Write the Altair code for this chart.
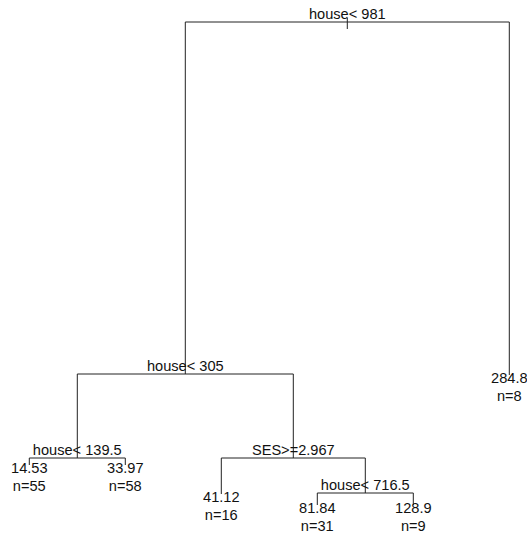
import altair as alt
import pandas as pd

# Split nodes of the regression tree (rpart-style)
split_labels = ["house< 981", "house< 305", "house< 139.5", "SES>=2.967", "house< 716.5"]
split_height = [1.0, 0.296, 0.128, 0.128, 0.058]
# children: ("s", i) split, ("l", j) leaf
split_children = [
    (("s", 1), ("l", 5)),
    (("s", 2), ("s", 3)),
    (("l", 0), ("l", 1)),
    (("l", 2), ("s", 4)),
    (("l", 3), ("l", 4)),
]

# Leaves
leaf_values = ["14.53", "33.97", "41.12", "81.84", "128.9", "284.8"]
leaf_n = [55, 58, 16, 31, 9, 8]
leaf_height = [0.114, 0.114, 0.056, 0.034, 0.034, 0.294]
leaf_order = [1, 2, 3, 4, 5, 6]

# ---- derive layout from tree structure ----
def node_x(node):
    kind, i = node
    if kind == "l":
        return leaf_order[i]
    a, b = split_children[i]
    return (node_x(a) + node_x(b)) / 2

def node_h(node):
    kind, i = node
    return leaf_height[i] if kind == "l" else split_height[i]

segs = []
for i, (a, b) in enumerate(split_children):
    h = split_height[i]
    segs.append(dict(x=node_x(a), x2=node_x(b), y=h, y2=h))
    for c in (a, b):
        segs.append(dict(x=node_x(c), x2=node_x(c), y=h, y2=node_h(c)))
root_x = node_x(("s", 0))
segs.append(dict(x=root_x, x2=root_x, y=split_height[0] + 0.008, y2=split_height[0] - 0.014))
seg_df = pd.DataFrame(segs)

split_df = pd.DataFrame({
    "x": [node_x(("s", i)) for i in range(len(split_labels))],
    "y": split_height,
    "label": split_labels,
})
leaf_df = pd.DataFrame({
    "x": leaf_order,
    "y": leaf_height,
    "value": leaf_values,
    "n": [f"n={v}" for v in leaf_n],
})

xs = alt.Scale(domain=[0.6948, 6.1844], nice=False, zero=False)
ys = alt.Scale(domain=[-0.03, 1.044], nice=False, zero=False)

lines = alt.Chart(seg_df).mark_rule(color="#222222", strokeWidth=1).encode(
    x=alt.X("x:Q", scale=xs, axis=None),
    x2="x2:Q",
    y=alt.Y("y:Q", scale=ys, axis=None),
    y2="y2:Q",
)

font = "Liberation Sans"
fs = 14.6
split_text = alt.Chart(split_df).mark_text(
    font=font, fontSize=fs, baseline="alphabetic", align="center", dy=-3, color="#111111"
).encode(
    x=alt.X("x:Q", scale=xs, axis=None),
    y=alt.Y("y:Q", scale=ys, axis=None),
    text="label:N",
)
leaf_text = alt.Chart(leaf_df).mark_text(
    font=font, fontSize=fs, baseline="alphabetic", align="center", dy=8, color="#111111"
).encode(
    x=alt.X("x:Q", scale=xs, axis=None),
    y=alt.Y("y:Q", scale=ys, axis=None),
    text="value:N",
)
n_text = alt.Chart(leaf_df).mark_text(
    font=font, fontSize=fs, baseline="alphabetic", align="center", dy=26, color="#111111"
).encode(
    x=alt.X("x:Q", scale=xs, axis=None),
    y=alt.Y("y:Q", scale=ys, axis=None),
    text="n:N",
)

chart = alt.layer(lines, split_text, leaf_text, n_text).properties(
    width=527, height=537, padding=0, autosize="none", background="white"
).configure_view(strokeWidth=0)

chart.save("out.html", embed_options={"renderer": "svg", "actions": False})
